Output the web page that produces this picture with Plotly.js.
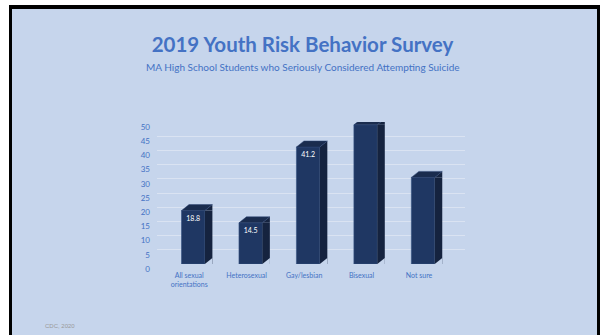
<!DOCTYPE html>
<html>
<head>
<meta charset="utf-8">
<script src="https://cdn.plot.ly/plotly-3.0.1.min.js"></script>
<style>
  html, body { margin: 0; padding: 0; background: #ffffff; width: 605px; height: 335px; overflow: hidden; }
  #frame { position: absolute; left: 9px; top: 5px; width: 591px; height: 330px; background: #000000; }
  #slide { position: absolute; left: 12px; top: 9px; width: 585px; height: 326px; background: #C6D5EC; }
  #chart { position: absolute; left: 0; top: 0; width: 605px; height: 335px; }
</style>
</head>
<body>
<div id="frame"></div>
<div id="slide"></div>
<div id="chart"></div>
<script>
// ---- data ----
const categories = ["All sexual<br>orientations", "Heterosexual", "Gay/lesbian", "Bisexual", "Not sure"];
const values = [18.8, 14.5, 41.2, 49.0, 30.5];
const showLabel = [true, true, true, false, false];
const yTicks = [0, 5, 10, 15, 20, 25, 30, 35, 40, 45, 50];

// ---- style ----
const W = 605, H = 335;
const mL = 156.8, mR = 140, mT = 121.5, mB = 71;
const xRange = [-0.63, 4.73];
const barWidth = 0.407;
const front = "#1F3763", side = "#15233F", topC = "#1A2C4E", bg = "#C6D5EC";
const blue = "#4472C4";
const dx = 7.5, dy = 6;

const plotW = W - mL - mR, plotH = H - mT - mB;
const pxPerCat = plotW / (xRange[1] - xRange[0]);
const hw = pxPerCat * barWidth / 2;

const shapes = [];
values.forEach((v, i) => {
  shapes.push({type: "rect", xref: "x", yref: "y", xsizemode: "pixel", xanchor: i,
    x0: hw, x1: hw + dx, y0: 0, y1: v, fillcolor: side, line: {width: 0}, layer: "above"});
  shapes.push({type: "path", xref: "x", yref: "y", xsizemode: "pixel", ysizemode: "pixel",
    xanchor: i, yanchor: v, path: `M ${hw},0 L ${hw + dx},0 L ${hw + dx},${dy} Z`,
    fillcolor: side, line: {width: 0}, layer: "above"});
  shapes.push({type: "path", xref: "x", yref: "y", xsizemode: "pixel", ysizemode: "pixel",
    xanchor: i, yanchor: 0, path: `M ${hw},0 L ${hw + dx},0 L ${hw + dx},${dy} Z`,
    fillcolor: bg, line: {width: 0}, layer: "above"});
  shapes.push({type: "path", xref: "x", yref: "y", xsizemode: "pixel", ysizemode: "pixel",
    xanchor: i, yanchor: v, path: `M ${-hw},0 L ${hw},0 L ${hw + dx},${dy} L ${-hw + dx},${dy} Z`,
    fillcolor: topC, line: {color: "#2A4273", width: 0.5}, layer: "above"});
});

const trace = {
  type: "bar",
  x: categories,
  y: values,
  width: barWidth,
  marker: {color: front, line: {color: "#34507F", width: 0.6}},
  text: values.map((v, i) => showLabel[i] ? v.toFixed(1) : ""),
  textposition: "inside",
  insidetextanchor: "end",
  textangle: 0,
  constraintext: "none",
  textfont: {family: "Lato, 'Open Sans', sans-serif", size: 7, color: "#ffffff"},
  hoverinfo: "none"
};

const layout = {
  width: W, height: H,
  margin: {l: mL, r: mR, t: mT, b: mB, pad: 0},
  paper_bgcolor: "rgba(0,0,0,0)",
  plot_bgcolor: "rgba(0,0,0,0)",
  showlegend: false,
  bargap: 0,
  title: {
    text: "<b>2019 Youth Risk Behavior Survey</b>",
    x: 0.5, xref: "container", xanchor: "center",
    y: 1 - 45 / H, yref: "container", yanchor: "middle",
    font: {family: "Lato, 'Open Sans', sans-serif", size: 20.5, color: blue}
  },
  xaxis: {
    type: "category",
    range: xRange,
    showgrid: false, zeroline: false, showline: false, ticks: "",
    tickfont: {family: "Lato, 'Open Sans', sans-serif", size: 7, color: blue},
    ticklabelstandoff: 6,
    ticklabelshift: -4,
    fixedrange: true
  },
  yaxis: {
    range: [0, 50],
    tickvals: yTicks,
    ticktext: yTicks.map(String),
    showgrid: true, gridcolor: "rgba(255,255,255,0.35)", gridwidth: 1,
    zeroline: false, showline: false, ticks: "",
    tickfont: {family: "Lato, 'Open Sans', sans-serif", size: 8, color: blue},
    ticklabelstandoff: 6,
    ticklabelshift: 5,
    fixedrange: true
  },
  shapes: shapes,
  annotations: [
    {
      text: "MA High School Students who Seriously Considered Attempting Suicide",
      xref: "paper", yref: "paper",
      x: (W / 2 - mL) / plotW, y: (H - mB - 66) / plotH,
      xanchor: "center", yanchor: "middle", showarrow: false,
      font: {family: "Lato, 'Open Sans', sans-serif", size: 10, color: blue}
    },
    {
      text: "CDC, 2020",
      xref: "paper", yref: "paper",
      x: (43 - mL) / plotW, y: (H - mB - 326) / plotH,
      xanchor: "left", yanchor: "middle", showarrow: false,
      font: {family: "'Liberation Sans', Arial, sans-serif", size: 6, color: "#9a9a9a"}
    }
  ]
};

Plotly.newPlot("chart", [trace], layout, {displayModeBar: false, staticPlot: true});
</script>
</body>
</html>
